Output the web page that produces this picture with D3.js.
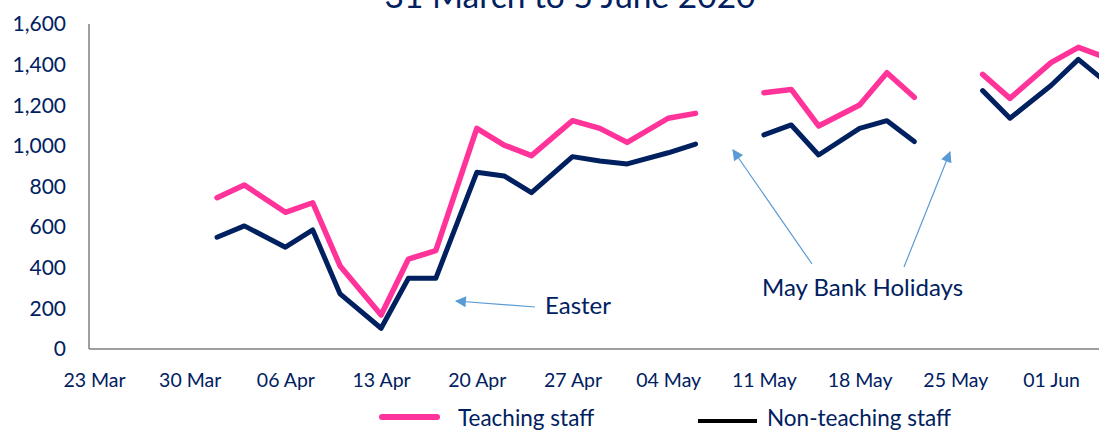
<!DOCTYPE html>
<html>
<head>
<meta charset="utf-8">
<script src="https://cdn.jsdelivr.net/npm/d3@7"></script>
<style>
  body { margin: 0; background: #fff; }
  svg { display: block; font-family: Lato, "Open Sans", sans-serif; }
</style>
</head>
<body>
<div id="chart"></div>
<script>
// survey days (Mon / Wed / Fri), bank holidays left blank
const dates = ['2020-04-01', '2020-04-03', '2020-04-06', '2020-04-08', '2020-04-10', '2020-04-13',
  '2020-04-15', '2020-04-17', '2020-04-20', '2020-04-22', '2020-04-24', '2020-04-27', '2020-04-29',
  '2020-05-01', '2020-05-04', '2020-05-06', '2020-05-08', '2020-05-11', '2020-05-13', '2020-05-15',
  '2020-05-18', '2020-05-20', '2020-05-22', '2020-05-25', '2020-05-27', '2020-05-29', '2020-06-01',
  '2020-06-03', '2020-06-05'];
const teaching = [745, 807, 673, 720, 409, 167, 443, 484, 1086, 1004, 952, 1124, 1086,
  1017, 1136, 1160, null, 1262, 1278, 1098, 1201, 1360, 1239, null, 1352, 1234, 1410, 1485, 1435];
const nonTeaching = [550, 606, 501, 586, 271, 102, 348, 348, 870, 852, 770, 947, 926,
  911, 966, 1009, null, 1054, 1103, 955, 1086, 1124, 1021, null, 1272, 1136, 1297, 1426, 1315];
const yTicks = [0, 200, 400, 600, 800, 1000, 1200, 1400, 1600];
const seriesNames = ['Teaching staff', 'Non-teaching staff'];
const title = '31 March to 5 June 2020';

const W = 1099, H = 430;
const plotLeft = 89, plotTop = 24, plotBottom = 349;
const navy = '#002060', pink = '#ff3399', arrowCol = '#5b9bd5', axisCol = '#7f7f7f';

const parse = d3.utcParse('%Y-%m-%d');
const days = dates.map(parse);

const svg = d3.select('#chart').append('svg')
  .attr('width', W)
  .attr('height', H);

const x = d3.scaleUtc()
  .domain([parse('2020-03-23'), parse('2020-06-01')])
  .range([94, 1051]);
const y = d3.scaleLinear().domain([0, 1600]).range([plotBottom, plotTop]);

// title (top part of chart is cut off in the original too)
svg.append('text')
  .attr('x', 570)
  .attr('y', 8)
  .attr('text-anchor', 'middle')
  .attr('fill', navy)
  .attr('font-size', 33.5)
  .text(title);

// y axis
svg.append('line')
  .attr('x1', plotLeft).attr('x2', plotLeft)
  .attr('y1', plotTop).attr('y2', plotBottom)
  .attr('stroke', axisCol).attr('stroke-width', 1.5);
svg.selectAll('.ylab')
  .data(yTicks)
  .enter().append('text')
  .attr('class', 'ylab')
  .attr('x', 66)
  .attr('y', d => y(d))
  .attr('dy', '0.35em')
  .attr('text-anchor', 'end')
  .attr('fill', navy)
  .attr('font-size', 21)
  .text(d3.format(','));

// x axis
const xAxis = d3.axisBottom(x)
  .tickValues(d3.utcMonday.range(parse('2020-03-23'), parse('2020-06-02')))
  .tickFormat(d3.utcFormat('%d %b'))
  .tickSize(0)
  .tickPadding(24);
const gx = svg.append('g')
  .attr('transform', `translate(0,${plotBottom})`)
  .call(xAxis);
gx.select('.domain').remove();
gx.selectAll('text')
  .attr('fill', navy)
  .attr('font-size', 19.5)
  .attr('font-family', 'Lato, "Open Sans", sans-serif');
svg.append('line')
  .attr('x1', plotLeft).attr('x2', W)
  .attr('y1', plotBottom).attr('y2', plotBottom)
  .attr('stroke', axisCol).attr('stroke-width', 1.5);

// lines
svg.append('clipPath').attr('id', 'plotClip')
  .append('rect').attr('x', plotLeft).attr('y', 0).attr('width', W - plotLeft).attr('height', plotBottom);

const line = d3.line()
  .defined(d => d[1] != null)
  .x(d => x(d[0]))
  .y(d => y(d[1]));

const plot = svg.append('g').attr('clip-path', 'url(#plotClip)');
plot.append('path')
  .datum(days.map((d, i) => [d, teaching[i]]))
  .attr('d', line)
  .attr('fill', 'none')
  .attr('stroke', pink)
  .attr('stroke-width', 5.5)
  .attr('stroke-linejoin', 'round')
  .attr('stroke-linecap', 'round');
plot.append('path')
  .datum(days.map((d, i) => [d, nonTeaching[i]]))
  .attr('d', line)
  .attr('fill', 'none')
  .attr('stroke', navy)
  .attr('stroke-width', 5)
  .attr('stroke-linejoin', 'round')
  .attr('stroke-linecap', 'round');

// annotations
const defs = svg.append('defs');
defs.append('marker')
  .attr('id', 'head')
  .attr('viewBox', '0 0 10 10')
  .attr('refX', 9).attr('refY', 5)
  .attr('markerWidth', 14).attr('markerHeight', 11)
  .attr('markerUnits', 'userSpaceOnUse')
  .attr('orient', 'auto')
  .append('path')
  .attr('d', 'M0,0 L10,5 L0,10 Z')
  .attr('fill', arrowCol);

const arrows = [
  [535, 307, 456, 301],
  [812, 264, 733, 150],
  [904, 267, 950, 152]
];
svg.selectAll('.arrow')
  .data(arrows)
  .enter().append('line')
  .attr('class', 'arrow')
  .attr('x1', d => d[0]).attr('y1', d => d[1])
  .attr('x2', d => d[2]).attr('y2', d => d[3])
  .attr('stroke', arrowCol)
  .attr('stroke-width', 1.2)
  .attr('marker-end', 'url(#head)');

svg.append('text')
  .attr('x', 545).attr('y', 306).attr('dy', '0.35em')
  .attr('fill', navy).attr('font-size', 24)
  .text('Easter');
svg.append('text')
  .attr('x', 762).attr('y', 288).attr('dy', '0.35em')
  .attr('fill', navy).attr('font-size', 24)
  .text('May Bank Holidays');

// legend
const legend = [
  { name: seriesNames[0], color: pink, width: 6, x1: 382, x2: 437, ly: 417, tx: 458 },
  { name: seriesNames[1], color: '#000', width: 4, x1: 698, x2: 757, ly: 421, tx: 767 }
];
const lg = svg.selectAll('.leg')
  .data(legend)
  .enter().append('g')
  .attr('class', 'leg');
lg.append('line')
  .attr('x1', d => d.x1).attr('x2', d => d.x2)
  .attr('y1', d => d.ly).attr('y2', d => d.ly)
  .attr('stroke', d => d.color)
  .attr('stroke-width', d => d.width)
  .attr('stroke-linecap', (d, i) => i === 0 ? 'round' : 'butt');
lg.append('text')
  .attr('x', d => d.tx)
  .attr('y', 418)
  .attr('dy', '0.35em')
  .attr('fill', navy)
  .attr('font-size', 22.5)
  .text(d => d.name);
</script>
</body>
</html>
